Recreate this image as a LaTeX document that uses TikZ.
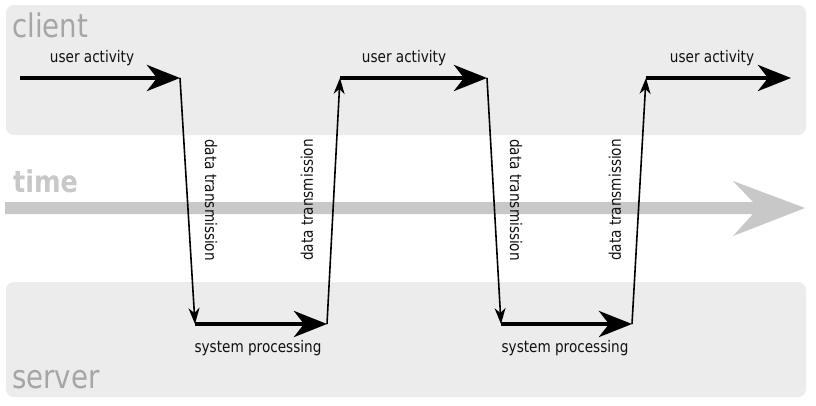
\documentclass[tikz,border=0pt]{standalone}
\usepackage{fontspec}
\setmainfont{DejaVu Sans}[FakeStretch=0.85]
\usetikzlibrary{arrows.meta}
\definecolor{bandgray}{HTML}{ECECEC}
\definecolor{timegray}{HTML}{C8C8C8}
\definecolor{titlegray}{HTML}{A6A6A6}
\definecolor{ink}{HTML}{111111}
\tikzset{
  band/.style={fill=bandgray, draw=none, rounded corners=8pt},
  bigtitle/.style={anchor=base west, inner sep=0pt, text=titlegray, font=\fontsize{32.5}{36}\selectfont},
  lbl/.style={anchor=base, inner sep=0pt, text=ink, font=\fontsize{16}{18}\selectfont},
  rlbl/.style={anchor=center, inner sep=0pt, text=ink, font=\fontsize{16}{18}\selectfont},
  thickarrow/.style={draw=black, line width=4.8pt, -{Stealth[length=33pt,width=26pt,inset=10pt]}},
  thinarrow/.style={draw=black, line width=1.6pt, -{Stealth[length=16pt,width=11pt,inset=5pt]}},
}
\begin{document}
\begin{tikzpicture}[x=1pt,y=-1pt]
\useasboundingbox (0,0) rectangle (816,405);
\fill[white] (0,0) rectangle (816,405);
% bands
\fill[band] (6,5) rectangle (806,135);
\fill[band] (6,282) rectangle (806,397);
% band titles
\node[bigtitle] (client) at (12,37) {client};
\node[bigtitle] (server) at (12,388) {server};
\node[anchor=base west, inner sep=0pt, text=timegray, font=\fontsize{30}{34}\selectfont\bfseries] (time) at (13,192) {time};
% time arrow
\fill[timegray] (5,202) -- (753,202) -- (733,181) -- (805,208) -- (733,236) -- (753,214) -- (5,214) -- cycle;
% corner coordinates
\coordinate (u1s) at (20,78);
\coordinate (u1e) at (180,78);
\coordinate (s1s) at (195,324);
\coordinate (s1e) at (327,324);
\coordinate (u2s) at (340,78);
\coordinate (u2e) at (487,78);
\coordinate (s2s) at (501,324);
\coordinate (s2e) at (632,324);
\coordinate (u3s) at (646,78);
\coordinate (u3e) at (791,78);
% thick arrows
\draw[thickarrow] (u1s) -- (u1e);
\draw[thickarrow] (s1s) -- (s1e);
\draw[thickarrow] (u2s) -- (u2e);
\draw[thickarrow] (s2s) -- (s2e);
\draw[thickarrow] (u3s) -- (u3e);
% thin arrows
\draw[thinarrow] (u1e) -- (s1s);
\draw[thinarrow] (s1e) -- (u2s);
\draw[thinarrow] (u2e) -- (s2s);
\draw[thinarrow] (s2e) -- (u3s);
% labels
\node[lbl] (ua1) at (92,62) {user activity};
\node[lbl] (ua2) at (404,62) {user activity};
\node[lbl] (ua3) at (712,62) {user activity};
\node[lbl] (sp1) at (258,352) {system processing};
\node[lbl] (sp2) at (565,352) {system processing};
\node[rlbl, rotate=-90] (dt1) at (211,200) {data transmission};
\node[rlbl, rotate=90] (dt2) at (307,200) {data transmission};
\node[rlbl, rotate=-90] (dt3) at (516,200) {data transmission};
\node[rlbl, rotate=90] (dt4) at (615,200) {data transmission};
\end{tikzpicture}
\end{document}
